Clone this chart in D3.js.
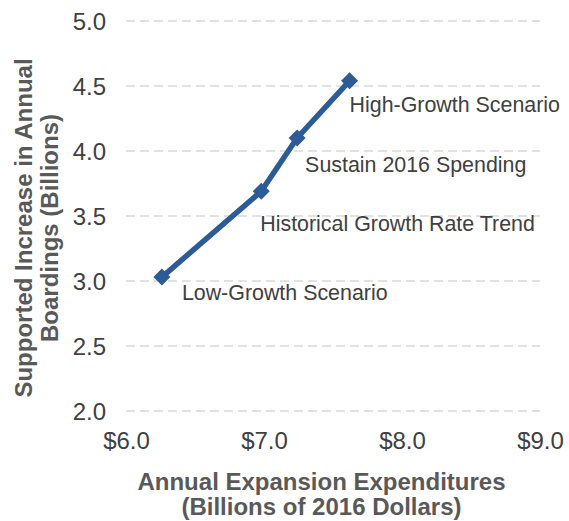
<!DOCTYPE html>
<html>
<head>
<meta charset="utf-8">
<script src="https://d3js.org/d3.v7.min.js"></script>
<style>
  body { margin: 0; background: #fff; }
  text { font-family: "Liberation Sans", Arial, sans-serif; }
  .tick text { font-size: 24px; fill: #404040; }
  .axisTitle { font-size: 24px; font-weight: bold; fill: #595959; }
  .ptLabel { font-size: 21.4px; fill: #404040; }
  .grid line { stroke: #d9d9d9; stroke-width: 1.3px; stroke-dasharray: 9,5; }
</style>
</head>
<body>
<script>

// data
var scenarios = ["Low-Growth Scenario", "Historical Growth Rate Trend", "Sustain 2016 Spending", "High-Growth Scenario"];
var expenditures = [6.26, 6.98, 7.24, 7.62];
var boardings = [3.03, 3.69, 4.10, 4.54];
var xTicks = [6, 7, 8, 9];
var yTicks = [2.0, 2.5, 3.0, 3.5, 4.0, 4.5, 5.0];

// label offsets from the point (px)
var labelOffset = [[20, 23], [-1, 40], [8, 34], [0, 31]];

var width = 569, height = 521;

var svg = d3.select("body").append("svg")
  .attr("width", width)
  .attr("height", height);

var x = d3.scaleLinear().domain([6, 9]).range([126, 540]);
var y = d3.scaleLinear().domain([2, 5]).range([411, 21]);

var data = scenarios.map(function(s, i) {
  return { name: s, x: expenditures[i], y: boardings[i], off: labelOffset[i] };
});

// gridlines
svg.append("g")
  .attr("class", "grid")
  .selectAll("line")
  .data(yTicks)
  .enter().append("line")
  .attr("x1", x(6)).attr("x2", x(9))
  .attr("y1", function(d) { return y(d); })
  .attr("y2", function(d) { return y(d); });

// y axis (labels only)
var yAxis = svg.append("g")
  .attr("transform", "translate(" + (x(6) - 20) + ",0)")
  .call(d3.axisLeft(y).tickValues(yTicks).tickSize(0).tickPadding(0).tickFormat(d3.format(".1f")));
yAxis.select(".domain").remove();
yAxis.selectAll("text").attr("dy", "0.36em");

// x axis (labels only)
var xAxis = svg.append("g")
  .attr("transform", "translate(0," + y(2) + ")")
  .call(d3.axisBottom(x).tickValues(xTicks).tickSize(0).tickPadding(0).tickFormat(function(d) { return "$" + d.toFixed(1); }));
xAxis.select(".domain").remove();
xAxis.selectAll("text").attr("dy", null).attr("y", 38);

// axis titles
var xt = svg.append("text").attr("class", "axisTitle").attr("text-anchor", "middle");
xt.append("tspan").attr("x", 321.5).attr("y", 490).text("Annual Expansion Expenditures");
xt.append("tspan").attr("x", 321.5).attr("y", 515).text("(Billions of 2016 Dollars)");

var yt = svg.append("text").attr("class", "axisTitle").attr("text-anchor", "middle")
  .attr("transform", "translate(32,228) rotate(-90)");
yt.append("tspan").attr("x", 0).attr("y", 0).text("Supported Increase in Annual");
yt.append("tspan").attr("x", 0).attr("y", 26).text("Boardings (Billions)");

// line
var line = d3.line()
  .x(function(d) { return x(d.x); })
  .y(function(d) { return y(d.y); });

svg.append("path")
  .datum(data)
  .attr("d", line)
  .attr("fill", "none")
  .attr("stroke", "#2d5b96")
  .attr("stroke-width", 5.5)
  .attr("stroke-linejoin", "round");

// diamond markers
svg.selectAll(".marker")
  .data(data)
  .enter().append("path")
  .attr("class", "marker")
  .attr("d", d3.symbol().type(d3.symbolSquare).size(144))
  .attr("transform", function(d) { return "translate(" + x(d.x) + "," + y(d.y) + ") rotate(45)"; })
  .attr("fill", "#2d5b96");

// point labels
svg.selectAll(".ptLabel")
  .data(data)
  .enter().append("text")
  .attr("class", "ptLabel")
  .attr("x", function(d) { return x(d.x) + d.off[0]; })
  .attr("y", function(d) { return y(d.y) + d.off[1]; })
  .text(function(d) { return d.name; });

</script>
</body>
</html>
